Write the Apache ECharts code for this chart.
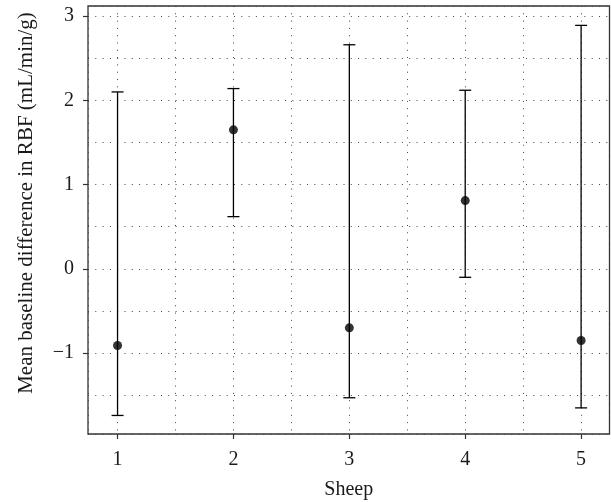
<!DOCTYPE html>
<html><head><meta charset="utf-8">
<script src="https://cdn.jsdelivr.net/npm/echarts@6/dist/echarts.min.js"></script>
<style>html,body{margin:0;padding:0;background:#fff}#c{width:611px;height:502px}</style>
</head><body><div id="c"></div>
<script>
const sheep = [1, 2, 3, 4, 5];
const meanDiff = [-0.91, 1.65, -0.70, 0.81, -0.85];
const upperCI = [2.10, 2.14, 2.66, 2.12, 2.89];
const lowerCI = [-1.74, 0.62, -1.53, -0.10, -1.65];
const xTicks = [1, 2, 3, 4, 5];
const yTicks = [-1, 0, 1, 2, 3];
const xName = 'Sheep';
const yName = 'Mean baseline difference in RBF (mL/min/g)';

const FONT = 'Liberation Serif, Times New Roman, serif';
const X_MIN = 0.745, X_MAX = 5.245, Y_MIN = -1.96, Y_MAX = 3.12;
const chart = echarts.init(document.getElementById('c'), null, {renderer: 'canvas'});
const dotted = {color: '#444', width: 1, type: [1, 6.3]};
const hidden = {show: false};
chart.setOption({
  animation: false,
  grid: {left: 88, right: 1.5, top: 6, bottom: 68, outerBoundsMode: 'none', containLabel: false,
    show: true, borderColor: '#333', borderWidth: 1.3, backgroundColor: 'transparent'},
  xAxis: [{
    type: 'value', min: X_MIN, max: X_MAX,
    name: xName, nameLocation: 'middle', nameGap: 46,
    nameTextStyle: {fontFamily: FONT, fontSize: 20, color: '#1a1a1a'},
    axisLine: {show: false, onZero: false},
    axisTick: {show: true, length: 5, inside: false, customValues: xTicks, lineStyle: {color: '#333', width: 1.2}},
    axisLabel: {customValues: xTicks, margin: 16, fontFamily: FONT, fontSize: 20, color: '#1a1a1a'},
    splitLine: hidden
  }, {
    type: 'value', min: X_MIN, max: X_MAX, splitNumber: 9, position: 'top',
    axisLine: {show: false, onZero: false}, axisTick: hidden, axisLabel: hidden,
    splitLine: {show: true, lineStyle: dotted}
  }],
  yAxis: [{
    type: 'value', min: Y_MIN, max: Y_MAX,
    axisLine: {show: false, onZero: false},
    axisTick: {show: true, length: 5, inside: false, customValues: yTicks, lineStyle: {color: '#333', width: 1.2}},
    axisLabel: {customValues: yTicks, margin: 14, fontFamily: FONT, fontSize: 20, color: '#1a1a1a',
      formatter: v => String(v).replace('-', '\u2212')},
    splitLine: hidden
  }, {
    type: 'value', min: Y_MIN, max: Y_MAX, splitNumber: 10, position: 'right',
    axisLine: {show: false, onZero: false}, axisTick: hidden, axisLabel: hidden,
    splitLine: {show: true, lineStyle: dotted}
  }],
  graphic: [{
    type: 'text', x: 26, y: 203, rotation: Math.PI / 2,
    style: {text: yName, font: '21px ' + FONT, fill: '#1a1a1a', textAlign: 'center', textVerticalAlign: 'middle'}
  }],
  series: [
    {
      type: 'custom',
      xAxisIndex: 0, yAxisIndex: 0,
      data: sheep.map((s, i) => [s, lowerCI[i], upperCI[i]]),
      renderItem: (params, api) => {
        const x = api.value(0);
        const pLo = api.coord([x, api.value(1)]);
        const pHi = api.coord([x, api.value(2)]);
        const cw = 6;
        const st = {stroke: '#000', lineWidth: 1.3};
        return {type: 'group', children: [
          {type: 'line', shape: {x1: pLo[0], y1: pLo[1], x2: pHi[0], y2: pHi[1]}, style: st},
          {type: 'line', shape: {x1: pHi[0] - cw, y1: pHi[1], x2: pHi[0] + cw, y2: pHi[1]}, style: st},
          {type: 'line', shape: {x1: pLo[0] - cw, y1: pLo[1], x2: pLo[0] + cw, y2: pLo[1]}, style: st}
        ]};
      },
      z: 3
    },
    {
      type: 'scatter',
      xAxisIndex: 0, yAxisIndex: 0,
      data: sheep.map((s, i) => [s, meanDiff[i]]),
      symbol: 'circle', symbolSize: 9,
      itemStyle: {color: '#000'},
      z: 4
    }
  ]
});
</script></body></html>
